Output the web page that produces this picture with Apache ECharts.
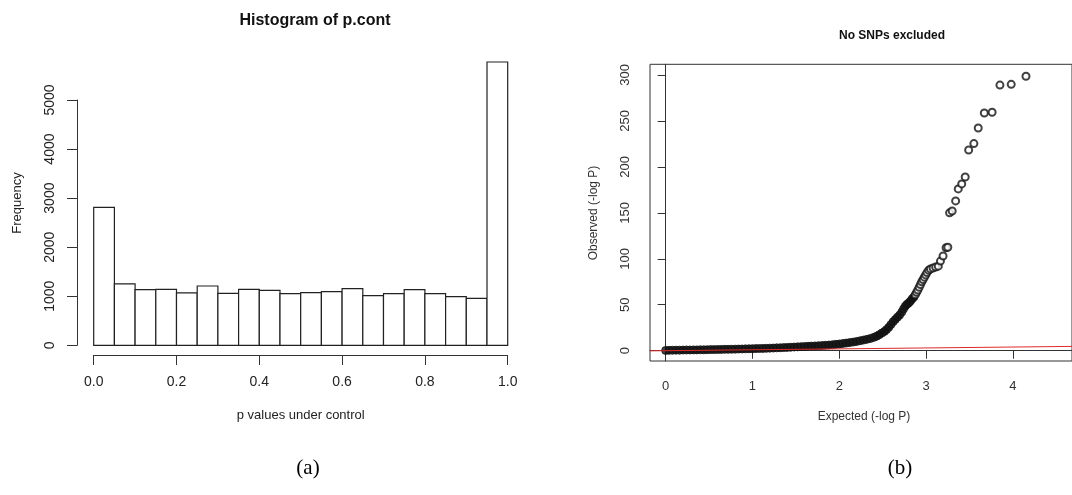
<!DOCTYPE html>
<html>
<head>
<meta charset="utf-8">
<script src="https://cdn.jsdelivr.net/npm/echarts@6/dist/echarts.min.js"></script>
<style>
  html, body { margin: 0; padding: 0; background: #fff; }
  #main { width: 1072px; height: 495px; }
</style>
</head>
<body>
<div id="main"></div>
<script>
  // histogram of p.cont: 20 bins of width 0.05 (left edges)
  const binStarts = [0.00, 0.05, 0.10, 0.15, 0.20, 0.25, 0.30, 0.35, 0.40, 0.45,
    0.50, 0.55, 0.60, 0.65, 0.70, 0.75, 0.80, 0.85, 0.90, 0.95];
  const binCounts = [2810, 1250, 1134, 1141, 1068, 1209, 1060, 1141, 1121, 1053,
    1073, 1094, 1155, 1012, 1053, 1134, 1053, 992, 958, 5774];
  const binWidth = 0.05;
  const histYTicks = [0, 1000, 2000, 3000, 4000, 5000];

  // QQ plot: expected vs observed -log P
  const qqExpected = [0.00, 0.04, 0.08, 0.12, 0.16, 0.20, 0.24, 0.28, 0.32, 0.36,
    0.40, 0.44, 0.48, 0.52, 0.56, 0.60, 0.64, 0.68, 0.72, 0.76,
    0.80, 0.84, 0.88, 0.92, 0.96, 1.00, 1.04, 1.08, 1.12, 1.16,
    1.20, 1.24, 1.28, 1.32, 1.36, 1.40, 1.44, 1.48, 1.52, 1.56,
    1.60, 1.64, 1.68, 1.72, 1.76, 1.80, 1.84, 1.88, 1.92, 1.96,
    2.00, 2.04, 2.08, 2.12, 2.16, 2.20, 2.24, 2.28, 2.32, 2.36,
    2.40, 2.43, 2.46, 2.49, 2.52, 2.545, 2.57, 2.595, 2.62, 2.645,
    2.67, 2.695, 2.72, 2.74, 2.76, 2.78, 2.80, 2.82, 2.84, 2.86,
    2.875, 2.89, 2.905, 2.92, 2.935, 2.95, 2.965, 2.98, 2.995, 3.01,
    3.03, 3.05, 3.08, 3.11, 3.14, 3.165, 3.195, 3.23, 3.25,
    3.27, 3.30, 3.34, 3.37, 3.41, 3.45, 3.49, 3.55, 3.60, 3.67,
    3.76, 3.85, 3.98, 4.15];
  const qqObserved = [0.3, 0.4, 0.5, 0.6, 0.6, 0.7, 0.8, 0.8, 0.9, 0.9,
    1.0, 1.0, 1.1, 1.2, 1.2, 1.3, 1.4, 1.5, 1.5, 1.6,
    1.7, 1.8, 1.9, 2.0, 2.1, 2.2, 2.3, 2.4, 2.5, 2.6,
    2.8, 2.9, 3.1, 3.2, 3.4, 3.6, 3.8, 4.0, 4.2, 4.4,
    4.6, 4.8, 5.0, 5.2, 5.4, 5.6, 5.9, 6.2, 6.5, 6.9,
    7.3, 7.8, 8.3, 8.8, 9.4, 10.1, 10.8, 11.6, 12.4, 13.4,
    14.6, 15.8, 17.4, 19.2, 21.0, 23.0, 25.5, 28.5, 31.5, 34.0,
    36.5, 38.8, 42.0, 45.5, 48.5, 50.5, 52.0, 54.0, 56.5, 58.5,
    61.0, 63.5, 66.0, 69.0, 72.0, 75.0, 77.5, 80.0, 82.5, 85.0,
    87.5, 89.0, 90.0, 91.0, 92.0, 97.5, 103, 112, 112.5,
    150, 152, 163, 176, 181.5, 189, 218.4, 225.3, 242.3, 258.6,
    259.4, 289, 289.8, 298.6];
  const qqXTicks = [0, 1, 2, 3, 4];
  const qqYTicks = [0, 50, 100, 150, 200, 250, 300];
  const refLine = [-0.18, 4.68];

  // points below this many overlap so much that they print as a solid band
  const denseCount = 80;

  const chart = echarts.init(document.getElementById('main'));
  const font = 'Liberation Sans, Arial, sans-serif';
  const ink = '#333';

  const qqPoints = qqExpected.map((x, i) => [x, qqObserved[i]]);
  const histData = binStarts.map((x, i) => [x, binCounts[i]]);

  function renderBin(params, api) {
    const x0 = api.value(0);
    const count = api.value(1);
    const p0 = api.coord([x0, 0]);
    const p1 = api.coord([x0 + binWidth, count]);
    return {
      type: 'rect',
      shape: { x: p0[0], y: p1[1], width: p1[0] - p0[0], height: p0[1] - p1[1] },
      style: { fill: '#fff', stroke: '#222', lineWidth: 1.2 }
    };
  }

  const option = {
    animation: false,
    title: [
      { text: 'Histogram of p.cont', left: 310, top: 8, textAlign: 'center',
        textStyle: { fontFamily: font, fontSize: 16, fontWeight: 'bold', color: '#111' } },
      { text: 'No SNPs excluded', left: 887, top: 25, textAlign: 'center',
        textStyle: { fontFamily: font, fontSize: 12, fontWeight: 'bold', color: '#111' } }
    ],
    grid: [
      { left: 93.7, right: 564.3, top: 50.9, bottom: 149.7 },
      { left: 77, width: 1, top: 100, bottom: 149.7 },
      { left: 93.7, right: 564.3, top: 300, bottom: 140 },
      { left: 650, right: -11.5, top: 64.3, bottom: 134, show: true, borderColor: ink, borderWidth: 1 }
    ],
    xAxis: [
      { gridIndex: 0, type: 'value', min: 0, max: 1, show: false },
      { gridIndex: 1, type: 'value', show: false },
      { gridIndex: 2, type: 'value', min: 0, max: 1, interval: 0.2,
        axisLine: { lineStyle: { color: ink, width: 1 } },
        axisTick: { length: 10, lineStyle: { color: ink } },
        axisLabel: { margin: 20, fontFamily: font, fontSize: 14, color: '#222',
          formatter: v => v.toFixed(1) },
        splitLine: { show: false } },
      { gridIndex: 3, type: 'value', min: refLine[0], max: refLine[1],
        axisLine: { lineStyle: { color: ink } },
        axisTick: { length: 8, customValues: qqXTicks, lineStyle: { color: ink } },
        axisLabel: { customValues: qqXTicks, margin: 19, fontFamily: font, fontSize: 13, color: '#333' },
        splitLine: { show: false } }
    ],
    yAxis: [
      { gridIndex: 0, type: 'value', min: 0, max: 6000, show: false },
      { gridIndex: 1, type: 'value', min: 0, max: 5000, interval: 1000,
        axisLine: { show: true, lineStyle: { color: ink } },
        axisTick: { show: true, length: 10, customValues: histYTicks, lineStyle: { color: ink } },
        axisLabel: { customValues: histYTicks, rotate: 90, margin: 20, fontFamily: font, fontSize: 14, color: '#222',
          formatter: v => String(v) },
        splitLine: { show: false } },
      { gridIndex: 2, type: 'value', show: false },
      { gridIndex: 3, type: 'value', min: -11.2, max: 311.6,
        axisLine: { show: true, lineStyle: { color: ink } },
        axisTick: { show: true, length: 8, customValues: qqYTicks, lineStyle: { color: ink } },
        axisLabel: { customValues: qqYTicks, rotate: 90, margin: 18, fontFamily: font, fontSize: 13, color: '#333' },
        splitLine: { show: false } }
    ],
    graphic: [
      { type: 'text', x: 17, y: 203, rotation: Math.PI / 2,
        style: { text: 'Frequency', font: '13px ' + font, fill: '#222', align: 'center', verticalAlign: 'middle' } },
      { type: 'text', x: 300.7, y: 415,
        style: { text: 'p values under control', font: '13px ' + font, fill: '#222', align: 'center', verticalAlign: 'middle' } },
      { type: 'text', x: 594, y: 213, rotation: Math.PI / 2,
        style: { text: 'Observed (-log P)', font: '12px ' + font, fill: '#333', align: 'center', verticalAlign: 'middle' } },
      { type: 'text', x: 864, y: 417,
        style: { text: 'Expected (-log P)', font: '12px ' + font, fill: '#333', align: 'center', verticalAlign: 'middle' } },
      { type: 'text', x: 308, y: 468,
        style: { text: '(a)', font: '21px Liberation Serif, Times New Roman, serif', fill: '#000', align: 'center', verticalAlign: 'middle' } },
      { type: 'text', x: 900, y: 468,
        style: { text: '(b)', font: '21px Liberation Serif, Times New Roman, serif', fill: '#000', align: 'center', verticalAlign: 'middle' } }
    ],
    series: [
      {
        type: 'custom',
        xAxisIndex: 0,
        yAxisIndex: 0,
        data: histData,
        renderItem: renderBin
      },
      {
        type: 'line',
        xAxisIndex: 3,
        yAxisIndex: 3,
        data: refLine.map(v => [v, v]),
        symbol: 'none',
        lineStyle: { color: '#e02a2a', width: 1 },
        z: 3
      },
      {
        // lower part of the curve: overlapping circles, drawn as a solid band
        type: 'scatter',
        xAxisIndex: 3,
        yAxisIndex: 3,
        data: qqPoints.slice(0, denseCount),
        symbol: 'circle',
        symbolSize: 8,
        itemStyle: { color: '#111', borderColor: '#111', borderWidth: 1 },
        z: 2
      },
      {
        type: 'scatter',
        xAxisIndex: 3,
        yAxisIndex: 3,
        data: qqPoints.slice(denseCount),
        symbol: 'emptyCircle',
        symbolSize: 7,
        itemStyle: { color: '#111', borderColor: '#111', borderWidth: 1.4 },
        z: 2
      }
    ]
  };

  chart.setOption(option);
</script>
</body>
</html>
